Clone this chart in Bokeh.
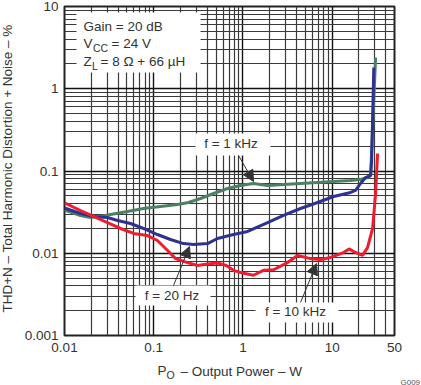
import math
from bokeh.plotting import figure
from bokeh.models import (Range1d, FixedTicker, Label, BoxAnnotation, Arrow,
                          NormalHead)
from bokeh.embed import file_html
from bokeh.resources import INLINE

# ---------------- data ----------------
x_ticks = [0.01, 0.1, 1, 10, 50]
x_tick_labels = ["0.01", "0.1", "1", "10", "50"]
y_ticks = [0.001, 0.01, 0.1, 1, 10]
y_tick_labels = ["0.001", "0.01", "0.1", "1", "10"]

# f = 1 kHz (green)
p_1k = [0.01, 0.0151, 0.0196, 0.0253, 0.0328, 0.0509, 0.0769, 0.119, 0.185,
        0.245, 0.335, 0.468, 0.672, 0.94, 1.31, 1.89, 2.85, 4.42, 6.86, 10.4,
        16.1, 20.8, 24.9, 27.0, 30.7]
thd_1k = [0.0335, 0.0288, 0.0272, 0.0280, 0.0296, 0.0322, 0.0350, 0.0370,
          0.0391, 0.0414, 0.0463, 0.0533, 0.0613, 0.0666, 0.0705, 0.0666,
          0.0685, 0.0705, 0.0725, 0.0745, 0.0766, 0.0788, 0.0833, 0.0882, 2.40]

# f = 20 Hz (blue)
p_20 = [0.01, 0.0151, 0.0211, 0.0303, 0.0393, 0.055, 0.0769, 0.110, 0.154,
        0.216, 0.279, 0.401, 0.519, 0.784, 1.13, 1.89, 2.85, 4.42, 6.86, 10.4,
        16.1, 18.3, 20.8, 23.7, 27.0, 27.7, 29.3]
thd_20 = [0.0355, 0.0304, 0.0280, 0.0272, 0.0250, 0.0230, 0.0200, 0.0169,
          0.0147, 0.0131, 0.0128, 0.0131, 0.0151, 0.0169, 0.0184, 0.0236,
          0.0288, 0.0350, 0.0414, 0.0490, 0.0548, 0.0580, 0.0705, 0.0833,
          0.0882, 0.134, 1.81]

# f = 10 kHz (red)
p_10k = [0.01, 0.0151, 0.0211, 0.0303, 0.0425, 0.0594, 0.0852, 0.110, 0.143,
         0.176, 0.239, 0.310, 0.40, 0.52, 0.65, 0.784, 1.02, 1.31, 1.70, 2.20,
         3.16, 4.09, 5.73, 7.41, 9.60, 13.4, 15.5, 17.4, 21.9, 24.9, 28.4,
         30.7, 32.3]
thd_10k = [0.0410, 0.0331, 0.0280, 0.0236, 0.0200, 0.0174, 0.0164, 0.0143,
           0.0108, 0.0086, 0.0077, 0.0071, 0.0074, 0.0076, 0.0071, 0.0062,
           0.0057, 0.0054, 0.0062, 0.0063, 0.0077, 0.0094, 0.0086, 0.0084,
           0.0089, 0.0102, 0.0113, 0.0105, 0.0094, 0.0117, 0.0200, 0.0533,
           0.163]

x_minor = [k * d for d in (0.01, 0.1, 1) for k in range(2, 10)] + [20, 30, 40]
y_minor = [k * d for d in (0.001, 0.01, 0.1, 1) for k in range(2, 10)]

# ---------------- layout helpers (annotation placement) ----------------
FONT = "Liberation Sans"
TXT = "#333333"


def ax(px):
    """page x pixel -> power (W)"""
    return 0.01 * 10 ** ((px - 64) / 89.2)


def ay(py):
    """page y pixel (inside plot) -> THD (%)"""
    return 10 * 10 ** (-(py - 6) / 82.25)


p = figure(width=421, height=385, x_axis_type="log", y_axis_type="log",
           x_range=Range1d(0.01, 50), y_range=Range1d(0.001, 10),
           output_backend="svg", toolbar_location=None,
           min_border_left=64, min_border_right=27, min_border_top=6,
           min_border_bottom=50)
p.background_fill_color = "white"
p.border_fill_color = "white"
p.outline_line_color = "#222222"
p.outline_line_width = 2

p.xaxis.ticker = FixedTicker(ticks=x_ticks, minor_ticks=x_minor)
p.yaxis.ticker = FixedTicker(ticks=y_ticks, minor_ticks=y_minor)
p.xaxis.major_label_overrides = dict(zip(x_ticks, x_tick_labels))
p.yaxis.major_label_overrides = dict(zip(y_ticks, y_tick_labels))
for a in (p.xaxis, p.yaxis):
    a.axis_line_color = None
    a.major_tick_line_color = None
    a.minor_tick_line_color = None
    a.major_tick_out = 0
    a.major_tick_in = 0
    a.minor_tick_out = 0
    a.major_label_text_font = FONT
    a.major_label_text_font_size = "13.5px"
    a.major_label_text_color = TXT
p.xaxis.major_label_standoff = 7
p.yaxis.major_label_standoff = 6

for g in (p.xgrid, p.ygrid):
    g.grid_line_color = "#111111"
    g.grid_line_width = 1.4
    g.minor_grid_line_color = "#3a3a3a"
    g.minor_grid_line_width = 1.2

p.line(p_1k, thd_1k, line_color="#4b8064", line_width=3)
p.line(p_20, thd_20, line_color="#2e3192", line_width=3)
p.line(p_10k, thd_10k, line_color="#ee1c2e", line_width=3)

# ---------------- annotation boxes ----------------
boxes = [(76, 200, 12, 72), (195, 270, 133, 155), (135, 210, 285, 305),
         (255, 338, 302, 322)]
for l, r, t, b in boxes:
    p.add_layout(BoxAnnotation(left=ax(l), right=ax(r), top=ay(t),
                               bottom=ay(b), fill_color="white",
                               fill_alpha=1, line_color=None))


def mk(x, y, text, size="13.5px", align="left", angle=0, color=TXT,
       units="data"):
    return Label(x=x, y=y, text=text, text_font=FONT,
                 text_font_size=size, text_color=color,
                 text_align=align, text_baseline="middle",
                 angle=angle, x_units=units, y_units=units)


def lab(*args, **kw):
    p.add_layout(mk(*args, **kw))


# info box
lab(ax(83), ay(25.5), "Gain = 20 dB")
lab(ax(83), ay(42.5), "V")
lab(ax(92.5), ay(47), "CC", size="10.5px")
lab(ax(111), ay(42.5), "= 24 V")
lab(ax(83), ay(61), "Z")
lab(ax(91.5), ay(65), "L", size="10.5px")
lab(ax(100), ay(61), "= 8 \u03A9 + 66 \u00B5H")

# curve labels
lab(ax(230.5), ay(143), "f = 1 kHz", align="center")
lab(ax(171.5), ay(295), "f = 20 Hz", align="center")
lab(ax(295), ay(311), "f = 10 kHz", align="center")

arrows = [((238, 155), (253, 181)), ((173, 285), (189, 246)),
          ((300, 302), (316, 263))]
for (x0, y0), (x1, y1) in arrows:
    p.add_layout(Arrow(x_start=ax(x0), y_start=ay(y0), x_end=ax(x1),
                       y_end=ay(y1), line_color="#333333", line_width=1,
                       end=NormalHead(size=11, fill_color="#333333",
                                      line_color="#333333")))

# axis titles, placed in side panels (screen units relative to each panel)
p.add_layout(mk(1, 167, "THD+N \u2013 Total Harmonic Distortion + Noise \u2013 %",
                align="center", angle=math.pi / 2, units="screen"), "left")
p.add_layout(mk(116, -2, "\u2013 Output Power \u2013 W", units="screen"),
             "below")
p.add_layout(mk(336, -3.5, "G009", size="8px", color="#555555",
                units="screen"), "below")
p.add_layout(mk(-237, -35, "P", units="screen"), "right")
p.add_layout(mk(-237, -39, "O", size="10.5px", units="screen"), "right")

open("out.html", "w").write(file_html(p, INLINE))
